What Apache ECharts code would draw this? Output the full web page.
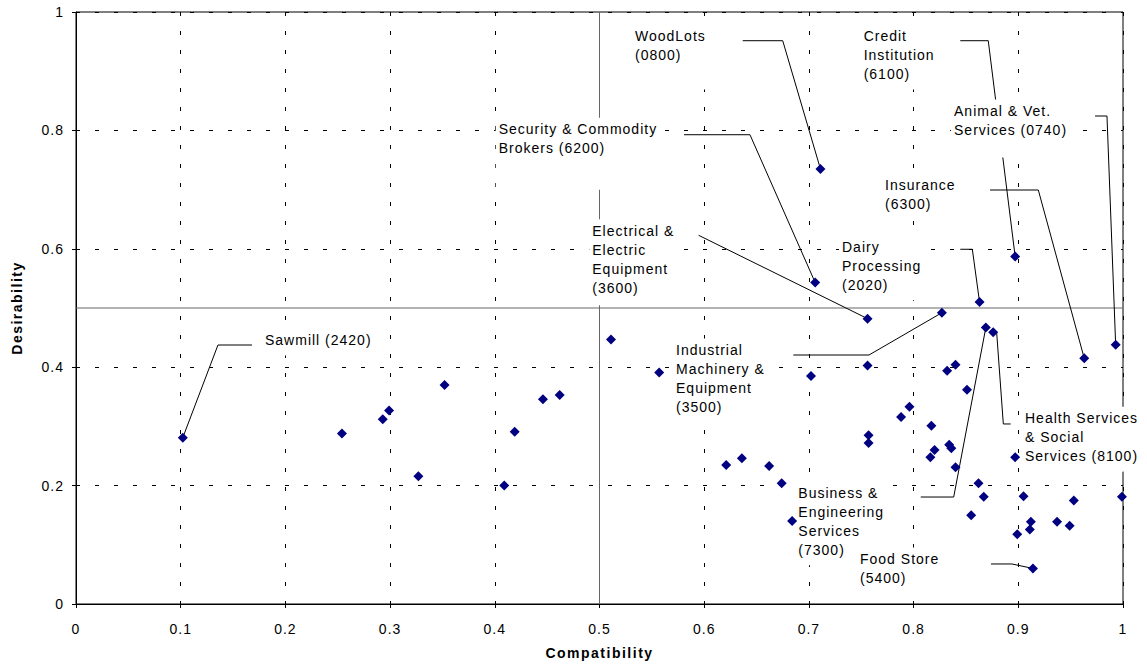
<!DOCTYPE html>
<html>
<head>
<meta charset="utf-8">
<script src="https://cdn.jsdelivr.net/npm/echarts@6/dist/echarts.min.js"></script>
<style>
html,body{margin:0;padding:0;background:#fff;}
#chart{width:1147px;height:666px;}
#chart text{letter-spacing:1px;}
#chart text[style*="bold"]{letter-spacing:1.5px;}
</style>
</head>
<body>
<div id="chart"></div>
<script>
// ---------------- data ----------------
const compatibility = [0.102, 0.254, 0.293, 0.299, 0.327, 0.352, 0.409, 0.419, 0.446, 0.462,
  0.511, 0.557, 0.621, 0.636, 0.662, 0.674, 0.684, 0.702, 0.756, 0.827,
  0.863, 0.869, 0.876, 0.993, 0.963, 0.756, 0.832, 0.840, 0.851, 0.796,
  0.788, 0.757, 0.757, 0.817, 0.820, 0.816, 0.834, 0.836, 0.840, 0.862,
  0.867, 0.855, 0.897, 0.905, 0.912, 0.911, 0.899, 0.937, 0.949, 0.953,
  0.999, 0.914, 0.711, 0.897, 0.706];
const desirability = [0.281, 0.288, 0.312, 0.327, 0.216, 0.370, 0.200, 0.291, 0.346, 0.353,
  0.447, 0.391, 0.235, 0.246, 0.233, 0.204, 0.140, 0.385, 0.482, 0.492,
  0.510, 0.467, 0.459, 0.438, 0.415, 0.403, 0.394, 0.404, 0.362, 0.333,
  0.316, 0.285, 0.272, 0.301, 0.260, 0.248, 0.269, 0.263, 0.231, 0.204,
  0.181, 0.150, 0.248, 0.182, 0.139, 0.126, 0.118, 0.139, 0.132, 0.175,
  0.181, 0.060, 0.735, 0.587, 0.543];

// annotation texts and the point (index) each one refers to
const labelTexts = [
  ['Sawmill (2420)'],
  ['WoodLots', '(0800)'],
  ['Security & Commodity', 'Brokers (6200)'],
  ['Electrical &', 'Electric', 'Equipment', '(3600)'],
  ['Credit', 'Institution', '(6100)'],
  ['Animal & Vet.', 'Services (0740)'],
  ['Insurance', '(6300)'],
  ['Dairy', 'Processing', '(2020)'],
  ['Industrial', 'Machinery &', 'Equipment', '(3500)'],
  ['Business &', 'Engineering', 'Services', '(7300)'],
  ['Health Services', '& Social', 'Services (8100)'],
  ['Food Store', '(5400)']
];
const labelTargets = [0, 52, 54, 18, 53, 23, 24, 20, 19, 21, 22, 51];
// text top-left corner of each annotation (data units)
const labelAnchors = [[0.1805, 0.462], [0.5339, 0.9755], [0.4037, 0.8179], [0.4931, 0.6466],
  [0.7523, 0.9755], [0.8386, 0.8488], [0.7727, 0.7238], [0.7316, 0.6196],
  [0.5731, 0.4451], [0.6899, 0.2041], [0.9064, 0.3297], [0.7488, 0.0921]];
// leader-line bend points (data units), the line ends at the target point
const leaderBends = [
  [[0.1681, 0.4375], [0.1356, 0.4375]],
  [[0.6368, 0.9515], [0.6750, 0.9515]],
  [[0.5807, 0.7927], [0.6437, 0.7927]],
  [[0.5947, 0.6228]],
  [[0.8446, 0.9515], [0.8713, 0.9515]],
  [[0.9733, 0.8243], [0.9847, 0.8243]],
  [[0.8730, 0.6993], [0.9191, 0.6993]],
  [[0.8446, 0.5992], [0.8561, 0.5992]],
  [[0.6851, 0.4206], [0.7574, 0.4206]],
  [[0.8068, 0.1807], [0.8383, 0.1807]],
  [[0.8927, 0.3041], [0.8857, 0.3041], [0.8794, 0.4573]],
  [[0.8739, 0.0676], [0.8940, 0.0676]]
];
const quadrantSplit = [0.5, 0.5];

// ---------------- styles ----------------
const FONT = 'Liberation Sans, Arial, sans-serif';
const boxBottomPad = [6, 25, 32, 8, 6, 18, 6, 6, 6, 6, 6, 6];
const PAD_T = 2, PAD_L = 3, PAD_R = 4;

// letter-spaced text: keep ECharts' measurements consistent with CSS letter-spacing
const mctx = document.createElement('canvas').getContext('2d');
echarts.setPlatformAPI({
  measureText: function (text, font) {
    mctx.font = font || '12px sans-serif';
    const w = mctx.measureText(text).width;
    const ls = /bold/.test(font || '') ? 1.5 : 1;
    return { width: w + ls * (text ? text.length : 0) };
  }
});

const chart = echarts.init(document.getElementById('chart'), null, { renderer: 'svg' });

const points = compatibility.map((x, i) => [x, desirability[i]]);
const lineSeries = (coords, color, z) => ({
  type: 'line', z: z, silent: true, symbol: 'none', showSymbol: false,
  animation: false, clip: false,
  lineStyle: { color: color, width: 1, opacity: 1 },
  emphasis: { disabled: true },
  data: coords
});
const quadSeries = [
  lineSeries([[quadrantSplit[0], 0], [quadrantSplit[0], 1]], '#666', 1),
  lineSeries([[0, quadrantSplit[1]], [1, quadrantSplit[1]]], '#666', 1)
];
const leaderSeries = leaderBends.map((b, i) =>
  lineSeries(b.concat([points[labelTargets[i]]]), '#000', 2));

const axisCommon = {
  type: 'value', min: 0, max: 1,
  nameLocation: 'middle', nameMoveOverlap: false,
  nameTextStyle: { fontSize: 14, fontWeight: 'bold', color: '#000', fontFamily: FONT, verticalAlign: 'middle' },
  axisLine: { show: true, onZero: false, lineStyle: { color: '#000', width: 1 } },
  axisTick: { show: true, inside: false, length: 4, lineStyle: { color: '#000', width: 1 } },
  splitLine: { show: true, lineStyle: { color: '#000', width: 1, type: [4, 15] } },
  minorTick: { show: false }, minorSplitLine: { show: false }
};

chart.setOption({
  animation: false,
  backgroundColor: '#fff',
  textStyle: { fontFamily: FONT },
  grid: {
    left: 76, right: 24, top: 12, bottom: 62,
    show: true, borderColor: '#000', borderWidth: 1, backgroundColor: 'transparent',
    outerBoundsMode: 'none', containLabel: false
  },
  xAxis: Object.assign({}, axisCommon, {
    interval: 0.1, name: 'Compatibility', nameGap: 49,
    axisLabel: { fontSize: 14, color: '#000', margin: 17, fontFamily: FONT }
  }),
  yAxis: Object.assign({}, axisCommon, {
    interval: 0.2, name: 'Desirability', nameGap: 59, nameRotate: 90,
    axisLabel: { fontSize: 14, color: '#000', margin: 12, fontFamily: FONT }
  }),
  series: quadSeries.concat(leaderSeries).concat([
    {
      type: 'scatter', z: 60, silent: true,
      symbol: 'diamond', symbolSize: [10, 10],
      itemStyle: { color: '#000080', opacity: 1 },
      emphasis: { disabled: true },
      data: points
    }
  ])
});

// annotation boxes: placed through the chart's own axes (data -> pixel)
const labelGraphics = labelAnchors.map((a, i) => {
  const p = chart.convertToPixel({ gridIndex: 0 }, a);
  return {
    type: 'text', z: 50, silent: true,
    x: p[0] - PAD_L, y: p[1] - PAD_T,
    style: {
      text: labelTexts[i].join('\n'),
      fill: '#000',
      font: '14px ' + FONT,
      lineHeight: 19,
      align: 'left', verticalAlign: 'top',
      backgroundColor: '#fff',
      padding: [PAD_T, PAD_R, boxBottomPad[i], PAD_L]
    }
  };
});
chart.setOption({ graphic: labelGraphics });
</script>
</body>
</html>
